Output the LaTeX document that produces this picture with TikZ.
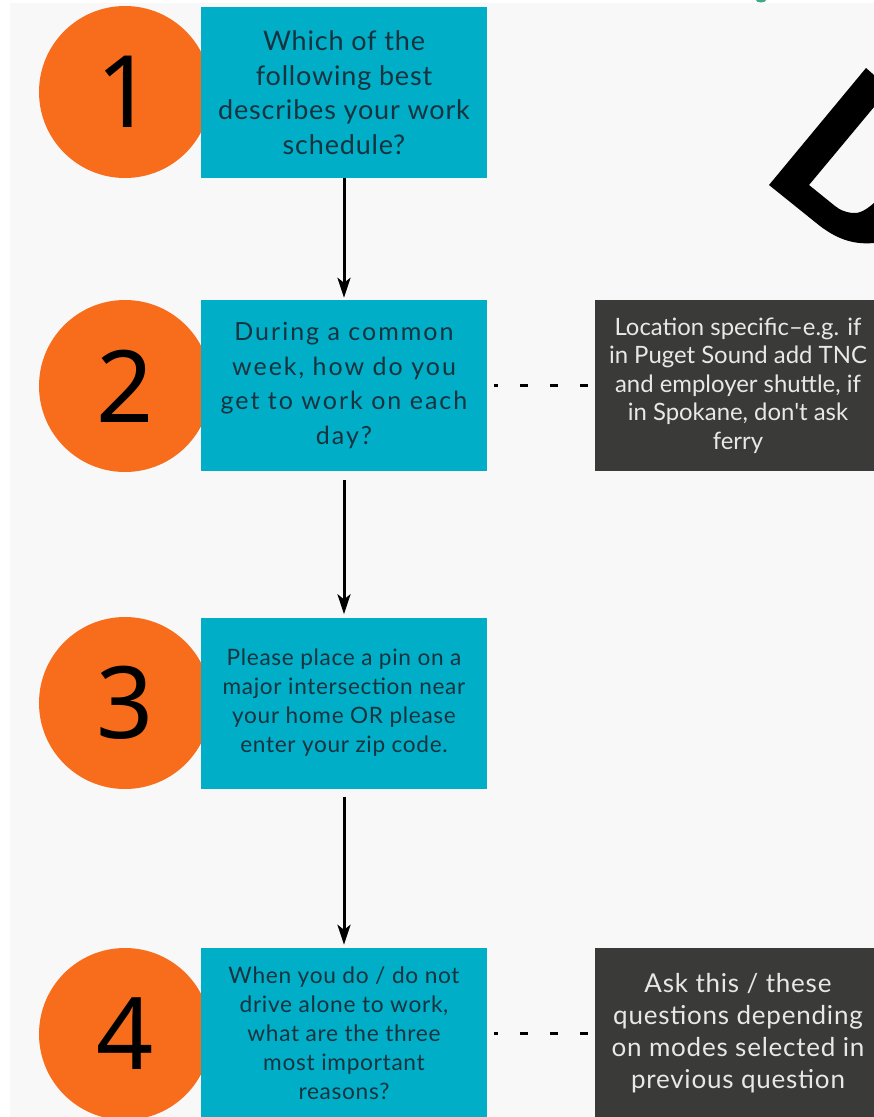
\documentclass[tikz,border=0pt]{standalone}
\usepackage{fontspec}
\setmainfont{Lato}
\newfontfamily\digitfont{Noto Sans}
\newfontfamily\spacedfont[LetterSpace=8]{Lato}
\newfontfamily\widefont[LetterSpace=3]{Lato}
\newfontfamily\notefont[Ligatures=TeXOff]{Lato}
\usetikzlibrary{arrows.meta}
\definecolor{qbg}{HTML}{F8F8F8}
\definecolor{qteal}{HTML}{00AEC7}
\definecolor{qorange}{HTML}{F76D1C}
\definecolor{qdark}{HTML}{3A3B38}
\definecolor{qtext}{HTML}{17333F}
\definecolor{qlight}{HTML}{E8E8E6}
\definecolor{qgreen}{HTML}{3FA98C}
\begin{document}
\begin{tikzpicture}[x=1pt,y=-1pt,
  qbox/.style={fill=qteal, minimum width=286pt, minimum height=171pt, inner sep=0pt, text=qtext, align=center},
  nbox/.style={fill=qdark, minimum width=286pt, minimum height=171pt, inner sep=0pt, text=qlight, align=center},
  numc/.style={circle, fill=qorange, minimum size=172pt, inner sep=0pt, text=black, font=\digitfont\fontsize{100}{100}\selectfont},
  flow/.style={line width=3pt, -{Stealth[length=20pt,width=13pt,inset=5pt]}},
  aside/.style={line width=3pt, dash pattern=on 8pt off 22pt, dash phase=23pt}
]
\useasboundingbox (0,0) rectangle (874,1117);
\clip (0,0) rectangle (874,1117);
\fill[qbg] (0,0) rectangle (874,1117);
\fill[white] (0,0) rectangle (874,3);
\fill[white] (0,0) rectangle (10,1117);
\fill[qgreen] (761,0) ellipse (5pt and 2.5pt);

% number circles
\node[numc] (c1) at (125,92) {1};
\node[numc] (c2) at (125,386) {2};
\node[numc] (c3) at (125,703) {3};
\node[numc] (c4) at (125,1034) {4};

% question boxes
\node[qbox, font=\widefont\fontsize{27}{34.5}\selectfont] (b1) at (344,92.5)
  {Which of the\\following best\\describes your work\\schedule?};
\node[qbox, font=\spacedfont\fontsize{25}{34.5}\selectfont] (b2) at (344,385.5)
  {During a common\\week, how do you\\get to work on each\\day?};
\node[qbox, font=\widefont\fontsize{22.6}{29}\selectfont] (b3) at (344,703)
  {Please place a pin on a\\major intersection near\\your home OR please\\enter your zip code.};
\node[qbox, font=\widefont\fontsize{22.7}{29}\selectfont] (b4) at (344,1033.5)
  {When you do / do not\\drive alone to work,\\what are the three\\most important\\reasons?};

% note boxes
\node[nbox, font=\notefont\fontsize{23.9}{28.5}\selectfont] (d1) at (738,385.5)
  {Location specific–e.g. if\\in Puget Sound add TNC\\and employer shuttle, if\\in Spokane, don't ask\\ferry};
\node[nbox, font=\widefont\fontsize{26}{32}\selectfont] (d2) at (738,1033.5)
  {Ask this / these\\questions depending\\on modes selected in\\previous question};

% flow arrows
\draw[flow, shorten >=2pt] (b1.south) -- (b2.north);
\draw[flow, shorten <=9pt, shorten >=3pt] (b2.south) -- (b3.north);
\draw[flow, shorten <=8pt, shorten >=3pt] (b3.south) -- (b4.north);

% side connectors
\draw[aside, shorten >=7pt] (d1.west) -- (b2.east);
\draw[aside, shorten >=7pt] (d2.west) -- (b4.east);

% cropped black glyph, top right
\fill[black] (866,68) -- (769,185) -- (820,226)
  .. controls (836,238) and (852,245) .. (874,243)
  -- (874,203) .. controls (866,210) and (859,214) .. (852,213)
  .. controls (845,212) and (840,210) .. (835,206)
  -- (809,185) -- (874,107) -- (874,75) -- cycle;
\end{tikzpicture}
\end{document}
